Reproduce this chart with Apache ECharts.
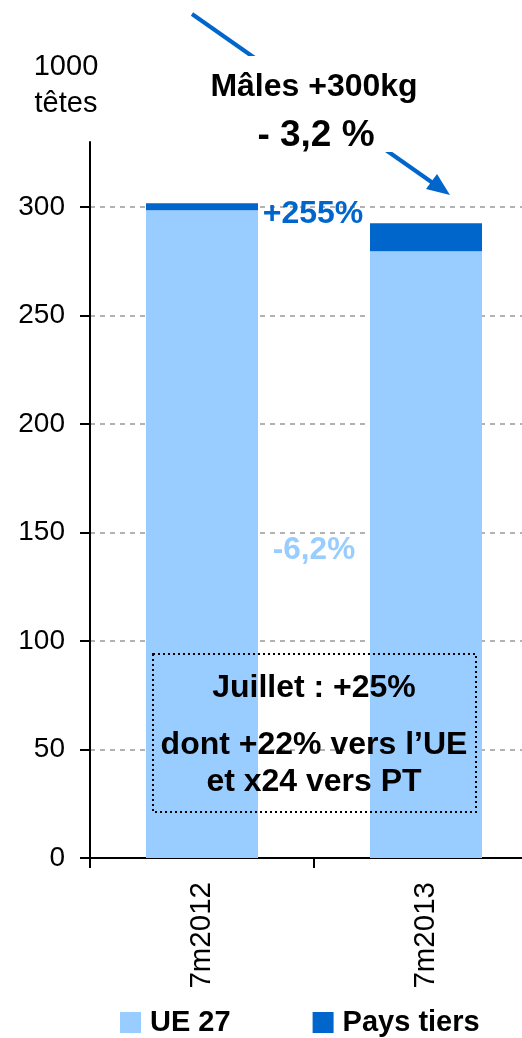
<!DOCTYPE html>
<html>
<head>
<meta charset="utf-8">
<script src="https://cdn.jsdelivr.net/npm/echarts@6/dist/echarts.min.js"></script>
<style>
html,body{margin:0;padding:0;background:#fff;}
#c{width:522px;height:1038px;}
</style>
</head>
<body>
<div id="c"></div>
<script>
const categories = ['7m2012', '7m2013'];
const ue27 = [298.5, 279.7];
const paysTiers = [3.3, 12.8];
const yTicks = [0, 50, 100, 150, 200, 250, 300];
const seriesNames = ['UE 27', 'Pays tiers'];

const FONT = '"Liberation Sans", Arial, sans-serif';
const chart = echarts.init(document.getElementById('c'));
chart.setOption({
  animation: false,
  backgroundColor: '#fff',
  textStyle: { fontFamily: FONT },
  grid: { left: 90, width: 448, top: 142, bottom: 180, containLabel: false, outerBoundsMode: 'none' },
  legend: {
    left: 120, top: 1008, padding: 0,
    itemWidth: 21, itemHeight: 21, itemGap: 82,
    icon: 'rect',
    textStyle: { fontSize: 29, fontWeight: 'bold', color: '#000', fontFamily: FONT, lineHeight: 22, padding: [0, 0, 0, 4] },
    data: seriesNames
  },
  xAxis: {
    type: 'category',
    data: categories,
    axisLine: { lineStyle: { color: '#000', width: 2 } },
    axisTick: { show: true, length: 10, lineStyle: { color: '#000', width: 2 } },
    axisLabel: { rotate: 90, fontSize: 29.5, margin: 24, color: '#000', fontFamily: FONT }
  },
  yAxis: {
    type: 'value',
    min: 0, max: 330, interval: 50,
    name: '1000\ntêtes',
    nameLocation: 'end',
    nameGap: 20,
    nameTextStyle: { fontSize: 29, color: '#000', lineHeight: 37, align: 'center', padding: [0, 48, 0, 0], fontFamily: FONT },
    axisLine: { show: true, lineStyle: { color: '#000', width: 2 } },
    axisTick: { show: true, length: 10, customValues: yTicks, lineStyle: { color: '#000', width: 2 } },
    axisLabel: { fontSize: 28, margin: 25, color: '#000', customValues: yTicks, fontFamily: FONT },
    splitLine: { show: true, lineStyle: { color: '#999', type: [5, 5], width: 1.5 } }
  },
  series: [
    {
      name: seriesNames[0], type: 'bar', stack: 'a', data: ue27, barWidth: 112,
      itemStyle: { color: '#99CCFF' }
    },
    {
      name: seriesNames[1], type: 'bar', stack: 'a', data: paysTiers, barWidth: 112,
      itemStyle: { color: '#0066CC' }
    }
  ],
  graphic: [
    { type: 'line', z: 100, shape: { x1: 192, y1: 14, x2: 440, y2: 188 }, style: { stroke: '#0066CC', lineWidth: 4 } },
    { type: 'polygon', z: 100, shape: { points: [[450, 195], [426, 189], [437, 174]] }, style: { fill: '#0066CC' } },
    { type: 'rect', z: 101, shape: { x: 200, y: 56, width: 240, height: 96 }, style: { fill: '#fff' } },
    { type: 'text', z: 102, x: 314, y: 87, style: { text: 'Mâles +300kg', font: 'bold 32px ' + FONT, fill: '#000', align: 'center', verticalAlign: 'middle' } },
    { type: 'text', z: 102, x: 316, y: 136, style: { text: '- 3,2 %', font: 'bold 37px ' + FONT, fill: '#000', align: 'center', verticalAlign: 'middle' } },
    { type: 'text', z: 102, x: 313, y: 214, style: { text: '+255%', font: 'bold 32px ' + FONT, fill: '#0066CC', align: 'center', verticalAlign: 'middle' } },
    { type: 'text', z: 102, x: 314, y: 550, style: { text: '-6,2%', font: 'bold 31.5px ' + FONT, fill: '#99CCFF', align: 'center', verticalAlign: 'middle' } },
    { type: 'rect', z: 102, shape: { x: 153, y: 654, width: 323, height: 158 }, style: { fill: 'none', stroke: '#000', lineWidth: 2, lineDash: [2, 3] } },
    { type: 'text', z: 103, x: 314, y: 688, style: { text: 'Juillet : +25%', font: 'bold 32px ' + FONT, fill: '#000', align: 'center', verticalAlign: 'middle' } },
    { type: 'text', z: 103, x: 314, y: 745, style: { text: 'dont +22% vers l’UE', font: 'bold 32px ' + FONT, fill: '#000', align: 'center', verticalAlign: 'middle' } },
    { type: 'text', z: 103, x: 314, y: 782, style: { text: 'et x24 vers PT', font: 'bold 32px ' + FONT, fill: '#000', align: 'center', verticalAlign: 'middle' } }
  ]
});
</script>
</body>
</html>
